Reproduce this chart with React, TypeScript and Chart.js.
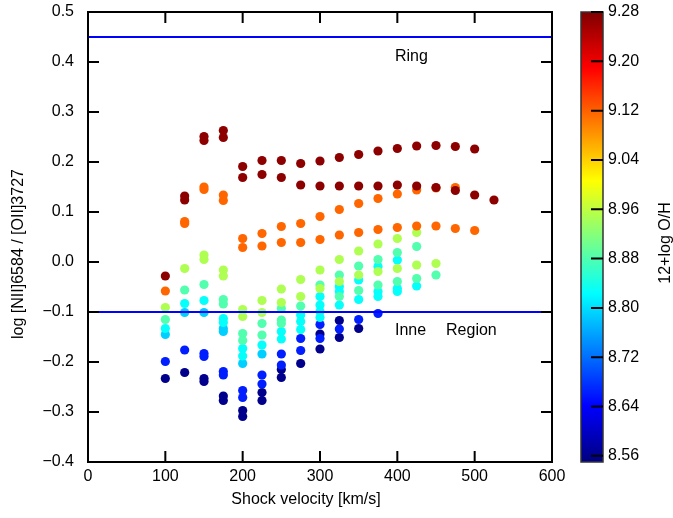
import React, { useEffect, useRef } from 'react';
import { Chart, registerables } from 'chart.js';
Chart.register(...registerables);

// ---------- data ----------
const xTicks = [0, 100, 200, 300, 400, 500, 600];
const yTicks = [-0.4, -0.3, -0.2, -0.1, 0.0, 0.1, 0.2, 0.3, 0.4, 0.5];
const cbarTicks = [8.56, 8.64, 8.72, 8.8, 8.88, 8.96, 9.04, 9.12, 9.2, 9.28];
const cbarMin = 8.55;
const cbarMax = 9.28;
const ringLevel = 0.45;
const innerLevel = -0.1;

const abundances = [9.27, 9.116, 8.948, 8.882, 8.827, 8.79, 8.663, 8.559];

const velA = [100, 125, 125, 150, 150, 175, 175, 200, 200, 225, 225, 250, 250, 275, 275, 300, 300, 325, 325, 350, 350, 375, 375, 400, 400, 425, 425, 450, 450, 475, 475, 500, 500, 525];
const ratioA = [-0.028, 0.132, 0.124, 0.251, 0.243, 0.263, 0.249, 0.191, 0.169, 0.203, 0.175, 0.203, 0.169, 0.197, 0.154, 0.202, 0.152, 0.209, 0.152, 0.215, 0.152, 0.222, 0.152, 0.227, 0.154, 0.232, 0.152, 0.233, 0.149, 0.231, 0.143, 0.226, 0.134, 0.124];

const velB = [100, 125, 125, 150, 150, 175, 175, 200, 200, 225, 225, 250, 250, 275, 275, 300, 300, 325, 325, 350, 350, 375, 375, 400, 400, 425, 425, 450, 450, 475, 475, 500];
const ratioB = [-0.058, 0.081, 0.077, 0.150, 0.145, 0.134, 0.123, 0.047, 0.029, 0.057, 0.032, 0.071, 0.039, 0.077, 0.039, 0.091, 0.045, 0.105, 0.054, 0.117, 0.059, 0.127, 0.065, 0.136, 0.069, 0.144, 0.072, 0.148, 0.072, 0.149, 0.067, 0.063];

const velC = [100, 125, 150, 150, 175, 175, 200, 200, 225, 225, 250, 250, 275, 275, 300, 300, 325, 325, 350, 350, 375, 375, 400, 400, 425, 425, 450];
const ratioC = [-0.091, -0.013, 0.014, 0.005, -0.016, -0.028, -0.095, -0.109, -0.077, -0.101, -0.054, -0.081, -0.035, -0.069, -0.016, -0.053, 0.005, -0.039, 0.022, -0.026, 0.036, -0.019, 0.047, -0.013, 0.059, -0.006, -0.003];

const velD = [100, 125, 150, 175, 175, 200, 200, 225, 225, 250, 250, 250, 275, 300, 325, 325, 350, 350, 375, 375, 400, 400, 425, 425, 450];
const ratioD = [-0.115, -0.056, -0.045, -0.075, -0.084, -0.143, -0.157, -0.123, -0.146, -0.093, -0.116, -0.123, -0.088, -0.046, -0.026, -0.069, -0.008, -0.057, 0.005, -0.046, 0.019, -0.039, 0.031, -0.033, -0.026];

const velE = [100, 125, 150, 175, 175, 200, 200, 225, 250, 250, 275, 275, 275, 300, 300, 300, 300, 325, 325, 325, 350, 350, 375, 375, 375, 400, 400, 400, 425];
const ratioE = [-0.133, -0.083, -0.077, -0.113, -0.121, -0.173, -0.188, -0.166, -0.139, -0.154, -0.106, -0.119, -0.135, -0.069, -0.086, -0.099, -0.111, -0.049, -0.059, -0.086, -0.036, -0.075, -0.009, -0.059, -0.069, 0.004, -0.053, -0.059, -0.048];

const velF = [100, 125, 150, 175, 175, 200, 225];
const ratioF = [-0.145, -0.101, -0.101, -0.133, -0.139, -0.203, -0.184];

const velG = [100, 125, 150, 150, 175, 175, 200, 200, 225, 225, 250, 250, 275, 275, 300, 300, 325, 350, 375];
const ratioG = [-0.199, -0.176, -0.183, -0.189, -0.219, -0.226, -0.257, -0.271, -0.226, -0.244, -0.184, -0.206, -0.153, -0.177, -0.125, -0.153, -0.134, -0.115, -0.103];

const velH = [100, 125, 150, 150, 175, 175, 200, 200, 225, 225, 250, 250, 275, 300, 300, 325, 325, 350];
const ratioH = [-0.233, -0.221, -0.233, -0.239, -0.268, -0.277, -0.297, -0.309, -0.261, -0.277, -0.215, -0.231, -0.203, -0.144, -0.174, -0.117, -0.151, -0.133];

const groupVel = [velA, velB, velC, velD, velE, velF, velG, velH];
const groupRatio = [ratioA, ratioB, ratioC, ratioD, ratioE, ratioF, ratioG, ratioH];

// ---------- helpers ----------
const FONT = '"Liberation Sans", Arial, Helvetica, sans-serif';

function jet(t: number): string {
  const c = (v: number) => Math.max(0, Math.min(1, v));
  const r = c(Math.min(4 * t - 1.5, -4 * t + 4.5));
  const g = c(Math.min(4 * t - 0.5, -4 * t + 3.5));
  const b = c(Math.min(4 * t + 0.5, -4 * t + 2.5));
  return `rgb(${Math.round(r * 255)},${Math.round(g * 255)},${Math.round(b * 255)})`;
}
const zColor = (z: number) => jet((z - cbarMin) / (cbarMax - cbarMin));

const fmtY = (v: number) => {
  const r = Math.round(v * 10) / 10;
  if (Math.abs(r) < 1e-9) return '0.0';
  return r < 0 ? '\u2212' + Math.abs(r).toFixed(1) : r.toFixed(1);
};

const decorPlugin = {
  id: 'decor',
  afterDraw(chart: any) {
    const ctx = chart.ctx as CanvasRenderingContext2D;
    const { left, right, top, bottom } = chart.chartArea;
    const xs = chart.scales.x;
    const ys = chart.scales.y;
    ctx.save();
    // frame
    ctx.strokeStyle = '#000';
    ctx.lineWidth = 2;
    ctx.strokeRect(left, top, right - left, bottom - top);
    // inward ticks
    const tl = 11;
    ctx.beginPath();
    xTicks.forEach((v) => {
      const px = xs.getPixelForValue(v);
      ctx.moveTo(px, bottom); ctx.lineTo(px, bottom - tl);
      ctx.moveTo(px, top); ctx.lineTo(px, top + tl);
    });
    yTicks.forEach((v) => {
      const py = ys.getPixelForValue(v);
      ctx.moveTo(left, py); ctx.lineTo(left + tl, py);
      ctx.moveTo(right, py); ctx.lineTo(right - tl, py);
    });
    ctx.stroke();

    // annotations
    ctx.fillStyle = '#000';
    ctx.font = `16px ${FONT}`;
    ctx.textAlign = 'left';
    ctx.textBaseline = 'middle';
    ctx.fillText('Ring', xs.getPixelForValue(397), ys.getPixelForValue(0.41));
    ctx.fillText('Inne', xs.getPixelForValue(397), ys.getPixelForValue(-0.138));
    ctx.fillText('Region', xs.getPixelForValue(463), ys.getPixelForValue(-0.138));

    // axis titles
    ctx.textAlign = 'center';
    ctx.fillText('Shock velocity [km/s]', 306, 500);
    ctx.save();
    ctx.translate(19, 254);
    ctx.rotate(-Math.PI / 2);
    ctx.fillText('log [NII]6584 / [OII]3727', 0, 0);
    ctx.restore();

    // colorbar
    const cbL = right + 29;
    const cbR = right + 51;
    const cy = (v: number) => top + ((cbarMax - v) / (cbarMax - cbarMin)) * (bottom - top);
    const grad = ctx.createLinearGradient(0, top, 0, bottom);
    for (let i = 0; i <= 64; i++) {
      const t = i / 64;
      grad.addColorStop(t, jet(1 - t));
    }
    ctx.fillStyle = grad;
    ctx.fillRect(cbL, top, cbR - cbL, bottom - top);
    ctx.strokeStyle = '#333';
    ctx.lineWidth = 1.5;
    ctx.strokeRect(cbL, top, cbR - cbL, bottom - top);
    ctx.strokeStyle = '#000';
    ctx.lineWidth = 2;
    ctx.beginPath();
    cbarTicks.forEach((v) => {
      const py = cy(v);
      ctx.moveTo(cbR, py); ctx.lineTo(cbR - 12, py);
    });
    ctx.stroke();
    ctx.fillStyle = '#000';
    ctx.textAlign = 'left';
    ctx.textBaseline = 'middle';
    cbarTicks.forEach((v) => {
      ctx.fillText(v.toFixed(2), cbR + 5, cy(v));
    });
    ctx.save();
    ctx.translate(666, 243);
    ctx.rotate(-Math.PI / 2);
    ctx.textAlign = 'center';
    ctx.fillText('12+log O/H', 0, 0);
    ctx.restore();

    ctx.restore();
  },
};

export default function App() {
  const ref = useRef<HTMLCanvasElement | null>(null);
  useEffect(() => {
    document.body.style.margin = '0';
    const canvas = ref.current;
    if (!canvas) return;

    const lineDatasets = [ringLevel, innerLevel].map((lv) => ({
      type: 'line' as const,
      data: [{ x: xTicks[0], y: lv }, { x: xTicks[xTicks.length - 1], y: lv }],
      borderColor: '#0000ff',
      borderWidth: 2,
      pointRadius: 0,
      showLine: true,
      fill: false,
    }));
    const pointDatasets = abundances.map((z, gi) => ({
      type: 'scatter' as const,
      data: groupVel[gi].map((v, i) => ({ x: v, y: groupRatio[gi][i] })),
      backgroundColor: zColor(z),
      borderWidth: 0,
      pointRadius: 4.6,
      pointHoverRadius: 4.6,
    }));

    const chart = new Chart(canvas, {
      type: 'scatter',
      data: { datasets: [...lineDatasets, ...pointDatasets] as any },
      options: {
        animation: false,
        responsive: false,
        devicePixelRatio: 1,
        events: [],
        layout: { padding: { left: 0, top: 12, right: 121, bottom: 0 } },
        plugins: { legend: { display: false }, tooltip: { enabled: false } },
        scales: {
          x: {
            type: 'linear',
            min: 0,
            max: 600,
            afterBuildTicks: (s: any) => { s.ticks = xTicks.map((v) => ({ value: v })); },
            afterFit: (s: any) => { s.height = 56; s.paddingLeft = 0; s.paddingRight = 0; },
            grid: { display: false, drawTicks: false },
            border: { display: false },
            ticks: { color: '#000', font: { size: 16, family: FONT }, padding: 5, maxRotation: 0, autoSkip: false },
          },
          y: {
            type: 'linear',
            min: -0.4,
            max: 0.5,
            afterBuildTicks: (s: any) => { s.ticks = yTicks.map((v) => ({ value: v })); },
            afterFit: (s: any) => { s.width = 88; s.paddingTop = 0; s.paddingBottom = 0; },
            grid: { display: false, drawTicks: false },
            border: { display: false },
            ticks: { color: '#000', font: { size: 16, family: FONT }, padding: 14, autoSkip: false, callback: (v: any) => fmtY(Number(v)) },
          },
        },
      },
      plugins: [decorPlugin],
    });
    return () => chart.destroy();
  }, []);
  return (
    <div style={{ width: 673, height: 518 }}>
      <canvas ref={ref} width={673} height={518} style={{ display: 'block' }} />
    </div>
  );
}
